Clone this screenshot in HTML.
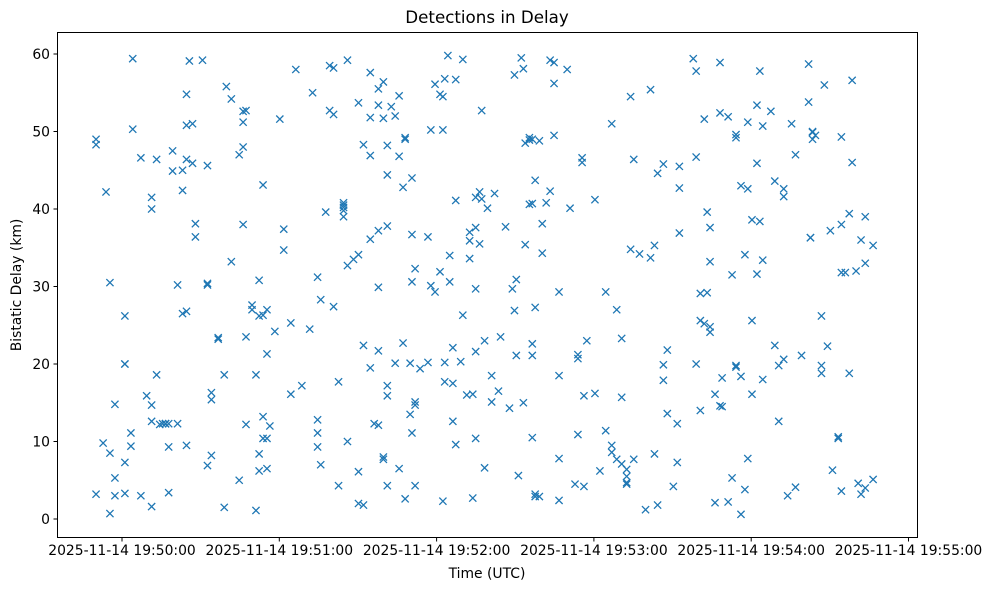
<!DOCTYPE html>
<html><head><meta charset="utf-8"><style>
body{margin:0;background:#fff;}
svg text{font-family:"DejaVu Sans","Liberation Sans",sans-serif;fill:#000;}
</style></head><body>
<svg id="chart" width="988" height="590">
<rect width="988" height="590" fill="#fff"/>
<text x="487" y="23" font-size="16.7" text-anchor="middle">Detections in Delay</text>
<text x="487" y="578" font-size="13.9" text-anchor="middle">Time (UTC)</text>
<text transform="translate(21,285) rotate(-90)" font-size="13.9" text-anchor="middle">Bistatic Delay (km)</text>
<g id="marks"></g>
<g id="axes"></g>
<rect x="57.5" y="32.5" width="860" height="505" fill="none" stroke="#000" stroke-width="1"/>
</svg>
<script>
// seconds offset from 19:49:57.7 UTC
const times=[-7.6,-4.9,-3.8,-2.3,-0.4,3.4,5.7,6.4,9.5,11.7,13.6,15.5,16.7,17.8,18.9,20.1,21.6,23.5,25.4,26.9,28.0,29.2,30.3,33.0,34.9,36.4,39.0,41.3,42.1,44.0,47.0,48.5,49.6,51.9,53.4,54.6,56.1,57.6,58.7,60.6,62.5,64.0,66.7,68.6,70.9,73.9,75.0,76.9,78.1,80.0,81.5,83.0,84.9,86.8,88.3,90.6,92.5,94.4,97.0,98.5,100.1,102.0,103.5,105.0,106.5,108.0,109.5,110.3,112.2,112.9,114.1,116.0,119.0,120.1,121.7,123.6,124.7,125.4,126.6,127.3,128.5,129.6,131.5,132.3,133.8,134.9,136.1,137.2,138.7,139.5,140.6,141.7,143.3,144.4,145.9,146.7,148.6,150.1,151.2,152.0,152.7,153.5,154.6,155.4,156.1,157.7,158.8,159.9,161.5,162.6,164.1,165.6,167.1,169.0,172.1,173.2,175.1,176.2,177.8,178.5,179.6,182.7,184.6,186.8,189.1,191.0,192.9,194.8,196.3,197.5,199.7,202.0,203.9,205.4,206.6,208.8,210.3,212.6,214.1,214.9,220.2,221.3,222.9,224.4,225.5,226.6,228.5,230.4,231.2,233.5,235.0,236.5,238.4,239.9,241.0,242.6,244.5,245.6,246.7,249.8,251.3,252.8,254.7,256.2,257.7,259.2,261.5,264.2,264.9,265.7,266.8,269.1,270.2,271.4,272.5,273.3,275.5,276.7,278.2,279.7,280.8,282.3,283.1,284.2,285.8,288.8];
const delays=[[49,48.3,3.2],[9.8],[42.2],[30.5,8.5,0.7],[14.8,5.3,3],[20,20,7.3,3.3,26.2],[11.1,9.4],[59.4,50.3],[46.6,3],[15.9],[12.6,41.5,40,14.7,1.6],[46.4,18.6],[12.2],[12.3],[12.3,12.3,12.3],[3.4,9.3,12.3],[47.5,44.9],[30.2,12.3],[42.4,45,26.5],[54.8,50.8,46.4,26.8,9.5],[59.1],[51,45.9],[38.1,36.4],[59.2],[30.4,30.2,45.6,6.9],[16.3,15.4,8.2],[23.4,23.2],[1.5,18.6],[55.8],[54.2,33.2],[47,5],[52.6,48,51.2,38],[52.7,23.5,12.2],[27,27.6],[1.1,18.6],[30.8,26.2,8.4,6.2],[43.1,13.2,10.4,26.3],[27,6.5,21.3,10.4],[12],[24.2],[51.6],[37.4,34.7],[16.1,25.3],[58],[17.2],[24.5],[55],[11.1,12.8,9.3,31.2],[7,28.3],[39.6],[58.5,52.7],[58.2,52.2,27.4],[4.3,17.7],[40.8,40.2,39,39.8,40.5],[59.2,32.7,10],[33.5],[53.7,34.1,6.1,2],[1.8,48.3,22.4],[57.6,51.8,46.9,36.1,19.5],[12.3],[55.5,53.4,29.9,37.2,21.7,12.1],[56.4,51.7,8,7.7],[48.2,44.4,37.8,17.2,15.9,4.3],[53.2],[52,20.1],[54.6,46.8,6.5],[42.8,22.7],[49,49.2,2.6],[13.5,20.1],[30.6,36.7,11.1,44],[32.3,15.1,14.7,4.3],[19.4],[36.4,20.2],[50.2,30.1],[56.1,29.3],[54.8,31.9],[54.5,50.2,2.3],[56.8,20.2,17.7],[59.8],[30.6,34],[17.5,12.6,22.1],[56.7,41.1,9.6],[20.3],[59.3,26.3],[16],[37,33.6,35.9],[2.7,16.1],[29.7,21.6,37.6,41.5,10.4],[42.2,35.5],[52.7,41.3],[6.6,23],[40.1],[15.1,18.5],[42],[16.5],[23.5],[37.7],[14.3],[29.7],[57.3,26.9],[30.9,21.1],[5.6],[59.5],[58.1,15],[48.5,35.4],[48.9,49.2,40.6],[40.7,22.6,21.1,10.5,49],[43.7,27.3,3.2,2.9],[48.8,2.9],[34.3,38.1],[40.8],[59.2,42.3],[58.9,56.2,49.5],[18.5,29.3,7.8,2.4],[58],[40.1],[4.5],[21.2,20.7,10.9],[46.6,46],[15.9,4.2],[23],[41.2,16.2],[6.2],[29.3,11.4],[51,9.5,8.6],[27,7.7],[23.3,15.7,7.1],[6.4,4.7,5.5,4.5],[34.8,54.5],[7.7,46.4],[34.2],[1.2],[55.4,33.7],[35.3,8.4],[44.6,1.8],[45.8,19.9,17.9],[13.6,21.8],[4.2],[7.3,12.3],[42.7,36.9,45.5],[59.4],[57.8,46.7,20],[29.1,25.6,14],[51.6,25.2],[29.2,39.6],[33.2,24.1,37.6,24.8],[2.1,16.1],[58.9,52.4,14.6],[18.2,14.5],[51.9,2.2],[31.5,5.3],[49.6,49.2,19.8,19.6],[43,0.6,18.4],[3.8,34.1],[51.2,7.8,42.6],[38.6,25.6,16.1],[53.4,31.6,45.9],[57.8,38.4],[33.4,50.7,18],[52.6],[43.6,22.4],[19.8,12.6],[20.6,42.6,41.6],[3],[51],[4.1,47],[21.1],[58.7,53.8],[36.3,36.3],[49.9,49,50],[49.5],[26.2,19.8,18.8],[56],[22.3],[37.2],[6.3],[10.6,10.4],[31.8,38,49.3,3.6],[31.8],[39.4,18.8],[46,56.6],[32],[4.6],[36,3.2],[39,4,33],[35.3,5.1]];
const xTickLabels=["2025-11-14 19:50:00","2025-11-14 19:51:00","2025-11-14 19:52:00","2025-11-14 19:53:00","2025-11-14 19:54:00","2025-11-14 19:55:00"];
const xTickSeconds=[0,60,120,180,240,300];
const yTicks=[0,10,20,30,40,50,60];
const baseOffset=-2.3; // 19:49:57.7 relative to 19:50:00
const NS="http://www.w3.org/2000/svg";
function xScale(s){return 122+s*157.3/60;}
function yScale(v){return 519-v*7.75;}
const marks=document.getElementById('marks');
const axes=document.getElementById('axes');
times.forEach((t,i)=>{
  delays[i].forEach((d,j)=>{
    const cx=xScale(t+baseOffset), cy=yScale(d), r=3.6;
    const p=document.createElementNS(NS,'path');
    p.setAttribute('d',`M${cx-r},${cy-r}L${cx+r},${cy+r}M${cx-r},${cy+r}L${cx+r},${cy-r}`);
    p.setAttribute('stroke','#1f77b4');p.setAttribute('stroke-width','1.3');
    
    
    marks.appendChild(p);
  });
});
xTickSeconds.forEach((s,i)=>{
  const x=xScale(s);
  const l=document.createElementNS(NS,'line');
  l.setAttribute('x1',x);l.setAttribute('x2',x);l.setAttribute('y1',537.5);l.setAttribute('y2',541.5);l.setAttribute('stroke','#000');
  
  
  axes.appendChild(l);
  const t=document.createElementNS(NS,'text');
  t.setAttribute('x',x);t.setAttribute('y',555);t.setAttribute('font-size','13.9');t.setAttribute('text-anchor','middle');
  t.textContent=xTickLabels[i];
  
  
  axes.appendChild(t);
});
yTicks.forEach(v=>{
  const y=yScale(v);
  const l=document.createElementNS(NS,'line');
  l.setAttribute('x1',53.5);l.setAttribute('x2',57.5);l.setAttribute('y1',y);l.setAttribute('y2',y);l.setAttribute('stroke','#000');
  
  
  axes.appendChild(l);
  const t=document.createElementNS(NS,'text');
  t.setAttribute('x',50);t.setAttribute('y',y+5);t.setAttribute('font-size','13.9');t.setAttribute('text-anchor','end');
  t.textContent=v;
  
  
  axes.appendChild(t);
});
</script>
</body></html>
